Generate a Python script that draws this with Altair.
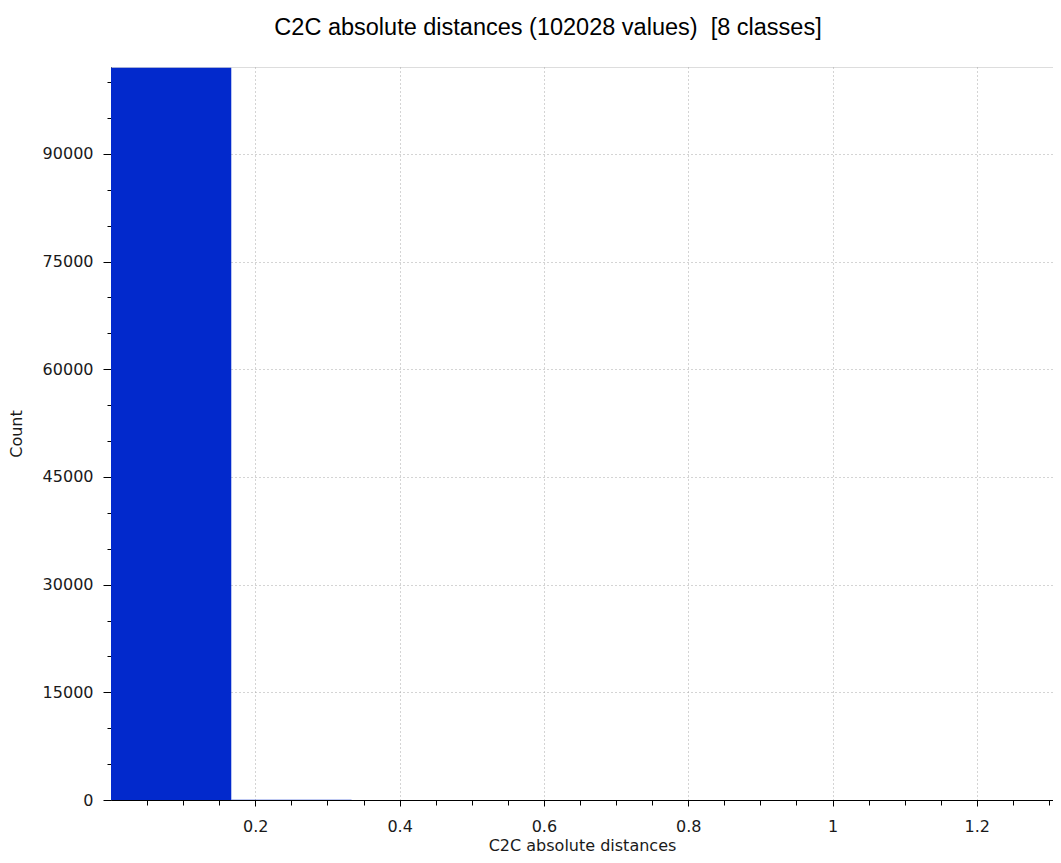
import altair as alt
import pandas as pd

# Histogram classes (8 classes)
bin_start = [0.0, 0.1667, 0.3334, 0.5001, 0.6668, 0.8335, 1.0002, 1.1669]
bin_end = [0.1667, 0.3334, 0.5001, 0.6668, 0.8335, 1.0002, 1.1669, 1.3336]
counts = [101990, 25, 8, 3, 1, 0, 0, 1]

x_ticks = [0.05, 0.1, 0.15, 0.2, 0.25, 0.3, 0.35, 0.4, 0.45, 0.5, 0.55, 0.6,
           0.65, 0.7, 0.75, 0.8, 0.85, 0.9, 0.95, 1.0, 1.05, 1.1, 1.15, 1.2,
           1.25, 1.3]
y_ticks = [0, 5000, 10000, 15000, 20000, 25000, 30000, 35000, 40000, 45000,
           50000, 55000, 60000, 65000, 70000, 75000, 80000, 85000, 90000,
           95000, 100000]

x_domain = [0.0, 1.3056]
y_domain = [0, 102090]

df = pd.DataFrame({"start": bin_start, "end": bin_end, "count": counts})

x_major = "round(datum.value * 100) % 20 == 0"
y_major = "datum.value % 15000 == 0"

AXIS_FONT = "DejaVu Sans"

x_axis = alt.Axis(
    values=x_ticks,
    labelExpr=f"{x_major} ? format(datum.value, '~g') : ''",
    tickSize={"condition": {"test": x_major, "value": 6}, "value": 5},
    grid=True,
    gridOpacity={"condition": {"test": x_major, "value": 1}, "value": 0},
    gridDash=[1, 3],
    gridColor="#a8a8a8",
    domainColor="#000000",
    tickColor="#000000",
    labelFont=AXIS_FONT,
    labelFontSize=16,
    labelColor="#1a1a1a",
    labelPadding=12,
    labelFlush=False,
    labelOverlap=False,
    title="C2C absolute distances",
    titleFont=AXIS_FONT,
    titleFontSize=16,
    titleFontWeight="normal",
    titleColor="#1a1a1a",
    titlePadding=3,
)

y_axis = alt.Axis(
    values=y_ticks,
    labelExpr=f"{y_major} ? format(datum.value, 'd') : ''",
    tickSize={"condition": {"test": y_major, "value": 8}, "value": 4},
    grid=True,
    gridOpacity={"condition": {"test": y_major + " && datum.value > 0", "value": 1}, "value": 0},
    gridDash=[1, 3],
    gridColor="#a8a8a8",
    domainColor="#000000",
    tickColor="#000000",
    labelFont=AXIS_FONT,
    labelFontSize=16,
    labelColor="#1a1a1a",
    labelPadding=10,
    labelFlush=False,
    labelOverlap=False,
    title="Count",
    titleFont=AXIS_FONT,
    titleFontSize=16,
    titleFontWeight="normal",
    titleColor="#1a1a1a",
    titlePadding=18,
)

chart = (
    alt.Chart(df)
    .mark_bar(color="#0229CC", clip=True)
    .encode(
        x=alt.X("start:Q", scale=alt.Scale(domain=x_domain, nice=False, zero=False), axis=x_axis),
        x2="end:Q",
        y=alt.Y("count:Q", scale=alt.Scale(domain=y_domain, nice=False), axis=y_axis),
        y2=alt.datum(0),
    )
    .properties(
        width=942,
        height=733,
        title=alt.TitleParams(
            "C2C absolute distances (102028 values)\u00a0 [8 classes]",
            font="Liberation Sans",
            fontSize=23.5,
            fontWeight="normal",
            color="#000000",
            anchor="middle",
            frame="group",
            baseline="alphabetic",
            offset=9,
            dx=-34,
        ),
        autosize=alt.AutoSizeParams(type="none"),
        padding={"left": 103, "top": 59, "right": 0, "bottom": 55},
    )
    .configure_view(stroke=None)
    .configure(background="#ffffff")
)

chart.save("out.html", embed_options={"renderer": "svg", "actions": False})
